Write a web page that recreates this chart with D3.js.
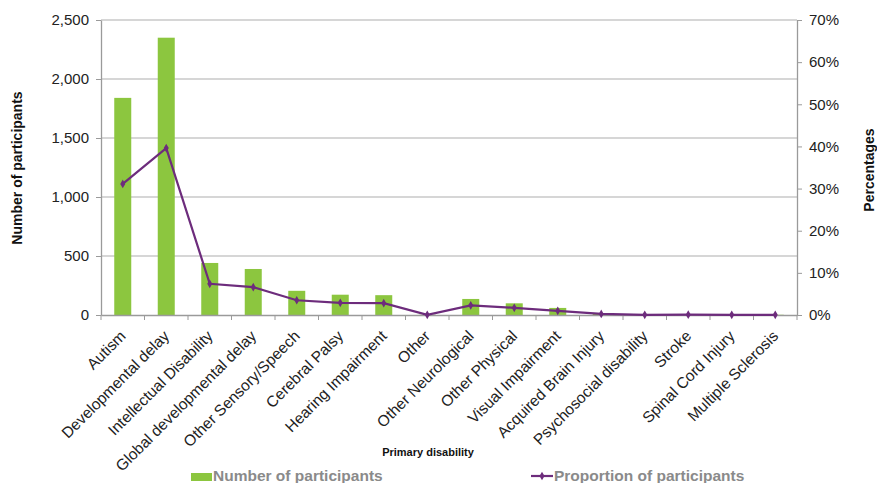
<!DOCTYPE html>
<html><head><meta charset="utf-8">
<script src="https://cdn.jsdelivr.net/npm/d3@7"></script>
<style>body{margin:0;background:#fff;font-family:"Liberation Sans",Arial,sans-serif}</style>
</head><body><svg id="c" width="877" height="483"></svg>
<script>
const categories = ["Autism","Developmental delay","Intellectual Disability","Global developmental delay","Other Sensory/Speech","Cerebral Palsy","Hearing Impairment","Other","Other Neurological","Other Physical","Visual Impairment","Acquired Brain Injury","Psychosocial disability","Stroke","Spinal Cord Injury","Multiple Sclerosis"];
const participants = [1840,2350,441,390,205,172,168,2,136,99,60,12,3,4,2,2];
const proportions = [31.1,39.6,7.4,6.6,3.5,2.9,2.8,0.03,2.3,1.7,1.0,0.25,0.05,0.07,0.04,0.03];
const leftTicks = [0,500,1000,1500,2000,2500];
const rightTicks = [0,10,20,30,40,50,60,70];

const svg = d3.select("#c");
const L=101, R=797, T=20, B=315;
const xb = d3.scaleBand().domain(categories).range([L,R]);
const y = d3.scaleLinear().domain([0,2500]).range([B,T]);
const y2 = d3.scaleLinear().domain([0,70]).range([B,T]);
const cx = d => xb(d)+xb.bandwidth()/2;

// gridlines
svg.append("g").selectAll("line").data(leftTicks.slice(1)).join("line")
  .attr("x1",L).attr("x2",R).attr("y1",d=>y(d)).attr("y2",d=>y(d))
  .attr("stroke","#c8c8c8").attr("stroke-width",1.3);

// bars
svg.append("g").selectAll("rect").data(participants).join("rect")
  .attr("x",(d,i)=>cx(categories[i])-8.5).attr("width",17)
  .attr("y",d=>y(d)).attr("height",d=>B-y(d)).attr("fill","#8cc63f");

// axes
const axisColor="#9a9a9a";
const gl = svg.append("g").attr("transform",`translate(${L},0)`)
  .call(d3.axisLeft(y).tickValues(leftTicks).tickFormat(d3.format(",")).tickSize(5).tickSizeOuter(0));
const gr = svg.append("g").attr("transform",`translate(${R},0)`)
  .call(d3.axisRight(y2).tickValues(rightTicks).tickFormat(d=>d+"%").tickSize(5).tickSizeOuter(0));
const gx = svg.append("g").attr("transform",`translate(0,${B})`)
  .call(d3.axisBottom(xb).tickSize(0).tickFormat(""));
[gl,gr,gx].forEach(g=>{g.selectAll(".domain").attr("stroke",axisColor).attr("stroke-width",1.3);
  g.selectAll(".tick line").attr("stroke",axisColor);
  g.selectAll("text").attr("font-family","Liberation Sans, Arial, sans-serif").attr("font-size",15).attr("fill","#222");});
gl.selectAll("text").attr("x",-12);
gr.selectAll("text").attr("x",12);
// x ticks at band boundaries
svg.append("g").selectAll("line").data(d3.range(categories.length+1)).join("line")
  .attr("x1",i=>L+i*xb.step()).attr("x2",i=>L+i*xb.step()).attr("y1",B).attr("y2",B+5)
  .attr("stroke",axisColor);

// x labels
svg.append("g").selectAll("text").data(categories).join("text")
  .attr("transform",d=>`translate(${cx(d)+4},${B+22}) rotate(-45)`)
  .attr("text-anchor","end").attr("font-size",15.5).attr("fill","#222").text(d=>d);

// line
const line = d3.line().x((d,i)=>cx(categories[i])).y(d=>y2(d));
svg.append("path").datum(proportions).attr("d",line).attr("fill","none")
  .attr("stroke","#6d2c7c").attr("stroke-width",2.2);
svg.append("g").selectAll("path").data(proportions).join("path")
  .attr("transform",(d,i)=>`translate(${cx(categories[i])},${y2(d)})`)
  .attr("d",d3.symbol(d3.symbolDiamond,22)).attr("fill","#6d2c7c");

// titles
svg.append("text").attr("transform","translate(22,168) rotate(-90)").attr("text-anchor","middle")
  .attr("font-size",14).attr("font-weight","bold").attr("fill","#111").text("Number of participants");
svg.append("text").attr("transform","translate(874,170) rotate(-90)").attr("text-anchor","middle")
  .attr("font-size",14).attr("font-weight","bold").attr("fill","#111").text("Percentages");
svg.append("text").attr("x",428).attr("y",456).attr("text-anchor","middle")
  .attr("font-size",11).attr("font-weight","bold").attr("fill","#111").text("Primary disability");

// legend
svg.append("rect").attr("x",191).attr("y",473).attr("width",21).attr("height",8).attr("fill","#8cc63f");
svg.append("text").attr("x",213).attr("y",481).attr("font-size",15.5).attr("font-weight","bold").attr("fill","#8a8a8a").text("Number of participants");
svg.append("line").attr("x1",531).attr("x2",553).attr("y1",476).attr("y2",476).attr("stroke","#6d2c7c").attr("stroke-width",2.2);
svg.append("path").attr("transform","translate(542,476)").attr("d",d3.symbol(d3.symbolDiamond,22)).attr("fill","#6d2c7c");
svg.append("text").attr("x",554).attr("y",481).attr("font-size",15.5).attr("font-weight","bold").attr("fill","#8a8a8a").text("Proportion of participants");
</script></body></html>
